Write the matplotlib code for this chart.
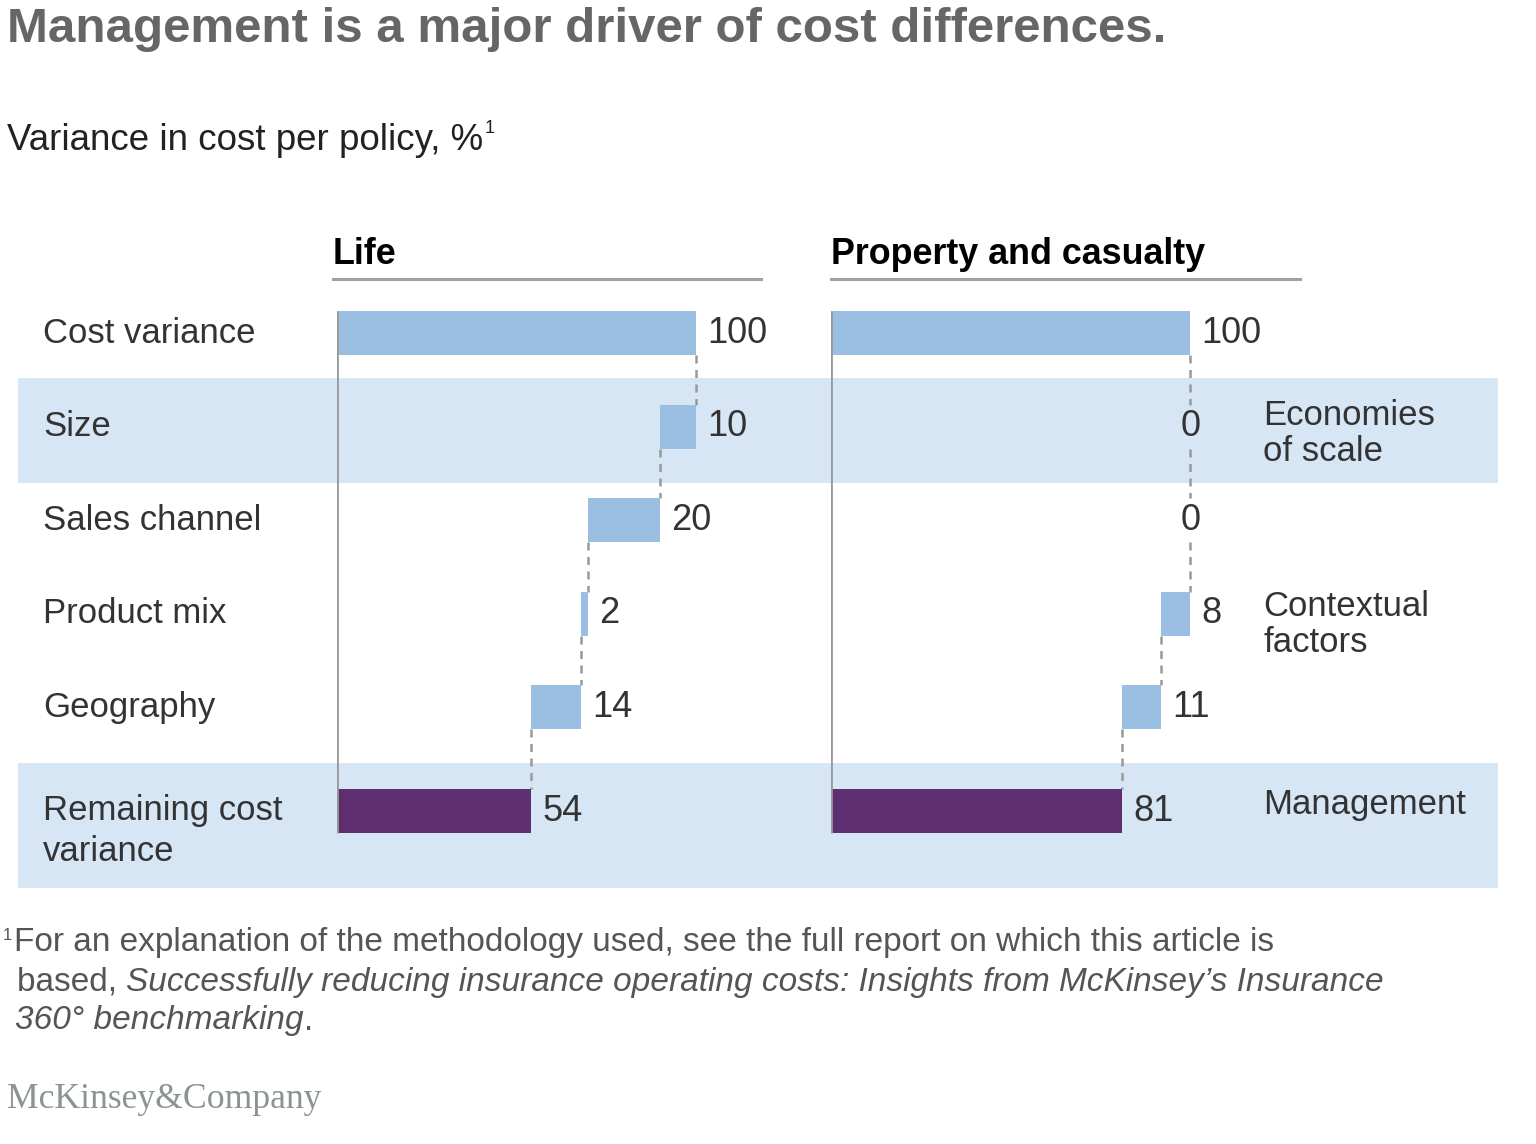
import matplotlib
matplotlib.use("Agg")
import matplotlib.pyplot as plt
import matplotlib.transforms as mtransforms
from matplotlib.patches import Rectangle

plt.rcParams['font.family'] = ['Liberation Sans', 'DejaVu Sans']

# data
categories = ["Cost variance", "Size", "Sales channel", "Product mix", "Geography",
              "Remaining cost\nvariance"]
life_values = [100, 10, 20, 2, 14, 54]
pc_values = [100, 0, 0, 8, 11, 81]
panel_titles = ["Life", "Property and casualty"]
driver_labels = ["Economies\nof scale", "Contextual\nfactors", "Management"]
driver_rows = [1, 3, 5]
band_rows = [1, 5]

title = "Management is a major driver of cost differences."
subtitle = "Variance in cost per policy, %"

# styles
LIGHT = "#9bbfe2"
BAND = "#d6e6f5"
PURPLE = "#5e2f70"
GRID = "#999999"
TEXT = "#333333"

W, H = 1536, 1144
fig = plt.figure(figsize=(W / 100, H / 100), dpi=100)
renderer = fig.canvas.get_renderer()


def fx(px):
    return px / W


def fy(py):
    return 1 - py / H


row_pos = [0, 1, 2, 3, 4, 5.11]
bar_h = 0.47

ax_top, ax_bot = 290, 900
axes = []
for left_px in (337, 831):
    ax = fig.add_axes([fx(left_px), fy(ax_bot), 431 / W, (ax_bot - ax_top) / H])
    ax.set_xlim(0, 120)
    ax.set_ylim(6.06, -0.46)
    ax.axis("off")
    axes.append(ax)

# bands across the whole width (x in figure, y in data rows)
band_tr = mtransforms.blended_transform_factory(fig.transFigure, axes[0].transData)
band_ext = {1: (-0.52, 0.60), 5: (-0.51, 0.82)}
for r in band_rows:
    lo, hi = band_ext[r]
    y0 = row_pos[r] + lo
    fig.patches.append(Rectangle((fx(18), y0), fx(1498) - fx(18), hi - lo,
                                 transform=band_tr, facecolor=BAND, edgecolor="none",
                                 zorder=-5))


def waterfall(ax, values):
    n = len(values)
    level = values[0]
    lefts = [0]
    for v in values[1:-1]:
        level -= v
        lefts.append(level)
    lefts.append(0)
    colors = [LIGHT] * (n - 1) + [PURPLE]
    ax.barh(row_pos, values, left=lefts, height=bar_h, color=colors, zorder=3)
    # axis line at zero
    ax.vlines(0, row_pos[0] - bar_h / 2, row_pos[-1] + bar_h / 2, color=GRID,
              lw=2.0, zorder=4)
    # connectors
    for i in range(n - 1):
        xc = lefts[i] + values[i] if i == 0 else lefts[i]
        ax.plot([xc, xc], [row_pos[i] + bar_h / 2, row_pos[i + 1] - bar_h / 2],
                color=GRID, lw=1.8, dashes=(3.2, 2.6), zorder=2)
    # labels
    for i, v in enumerate(values):
        right = lefts[i] + v
        if v == 0:
            ax.text(right, row_pos[i], str(v), ha="center", va="center",
                    fontsize=26, color=TEXT, zorder=5)
        else:
            ax.annotate(str(v), (right, row_pos[i]), xytext=(8, 0),
                        textcoords="offset points", ha="left", va="center",
                        fontsize=26, color=TEXT, zorder=5)


waterfall(axes[0], life_values)
waterfall(axes[1], pc_values)

# panel headers
for ax, name, (x0, x1) in zip(axes, panel_titles, [(333, 761), (831, 1300)]):
    fig.text(fx(x0), fy(255), name, fontsize=25.8, fontweight="bold", color="black",
             ha="left", va="center")
    fig.add_artist(plt.Line2D([fx(x0), fx(x1)], [fy(279), fy(279)], color="#a0a0a0",
                              lw=2.2))

# row labels
lab_tr = mtransforms.blended_transform_factory(fig.transFigure, axes[0].transData)
for i, cat in enumerate(categories):
    if "\n" in cat:
        axes[0].annotate(cat, (fx(43), row_pos[i]), xycoords=lab_tr, xytext=(0, 12),
                         textcoords="offset points", ha="left", va="top",
                         fontsize=25, color=TEXT, linespacing=1.3)
    else:
        axes[0].text(fx(43), row_pos[i], cat, transform=lab_tr, ha="left",
                     va="center", fontsize=25, color=TEXT)

# driver labels on the right
drv_off = [-5, -8, 5]
for lab, r, off in zip(driver_labels, driver_rows, drv_off):
    axes[1].annotate(lab, (fx(1263), row_pos[r]), xycoords=lab_tr, xytext=(0, off),
                     textcoords="offset points", ha="left", va="center",
                     fontsize=25, color=TEXT, linespacing=1.12)

# title / subtitle
fig.text(fx(7), fy(30), title, fontsize=35.5, fontweight="bold", color="#666666",
         ha="left", va="center")
t = fig.text(fx(7), fy(140), subtitle, fontsize=26.5, color="#222222", ha="left",
             va="center")
bb = t.get_window_extent(renderer)
fig.text(bb.x1 / W + fx(2), fy(129), "1", fontsize=13, color="#222222", ha="left",
         va="center")


def runs(x, y, parts, size, color):
    for s, style in parts:
        tt = fig.text(x, y, s, fontsize=size, style=style, color=color, ha="left",
                      va="center")
        x = tt.get_window_extent(renderer).x1 / W


FOOT = "#555555"
fig.text(fx(3), fy(935), "1", fontsize=12, color=FOOT, ha="left", va="center")
runs(fx(14), fy(943), [("For an explanation of the methodology used, see the full "
                        "report on which this article is", "normal")], 24, FOOT)
runs(fx(17), fy(982), [("based, ", "normal"),
                       ("Successfully reducing insurance operating costs: Insights "
                        "from McKinsey\u2019s Insurance", "italic")], 24, FOOT)
runs(fx(15), fy(1021), [("360\u00b0 benchmarking", "italic"), (".", "normal")],
     24, FOOT)

fig.text(fx(7), fy(1100), "McKinsey&Company", fontsize=25.7, family="Liberation Serif",
         color="#8a9490", ha="left", va="center")

fig.savefig("out.png", dpi=100, facecolor="white")
